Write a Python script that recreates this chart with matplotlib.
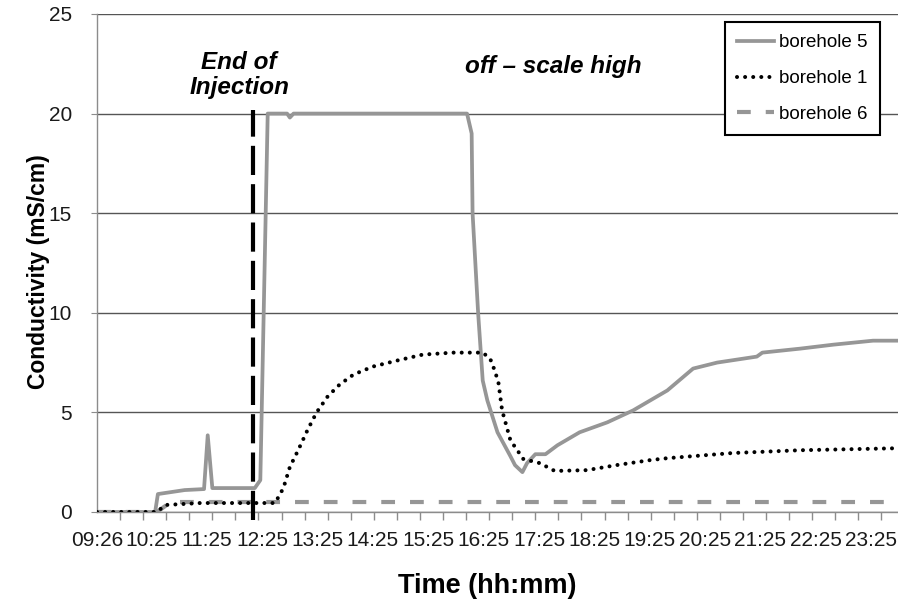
import matplotlib.pyplot as plt
import numpy as np

plt.rcParams['font.family'] = ['Liberation Sans', 'DejaVu Sans']

# conductivity logger readings (time of day, mS/cm)
bh5_time = ["09:26", "10:29", "10:32", "11:01", "11:22", "11:26", "11:31", "12:17",
            "12:23", "12:31", "12:52", "12:55", "12:59", "16:07", "16:12", "16:13",
            "16:19", "16:24", "16:29", "16:40", "16:54", "16:59", "17:07", "17:12",
            "17:21", "17:32", "17:45", "18:09", "18:39", "19:07", "19:44", "20:12",
            "20:38", "21:21", "21:27", "22:08", "22:44", "23:27", "23:54"]
bh5_cond = [0.0, 0.0, 0.9, 1.1, 1.15, 3.85, 1.2, 1.2,
            1.6, 20.0, 20.0, 19.8, 20.0, 20.0, 19.0, 15.0,
            10.0, 6.6, 5.6, 4.0, 2.8, 2.35, 2.0, 2.45,
            2.9, 2.9, 3.35, 4.0, 4.5, 5.1, 6.1, 7.2,
            7.5, 7.8, 8.0, 8.2, 8.4, 8.6, 8.6]

bh1_time = ["09:26", "10:31", "10:40", "11:18", "12:39", "12:48", "12:55", "13:04",
            "13:14", "13:24", "13:36", "13:49", "14:04", "14:25", "14:51", "15:19",
            "15:52", "16:24", "16:32", "16:37", "16:41", "16:45", "16:54", "17:08",
            "17:26", "17:42", "18:17", "18:50", "19:25", "19:44", "20:55", "22:08",
            "23:54"]
bh1_cond = [0.0, 0.0, 0.35, 0.45, 0.45, 1.2, 2.26, 3.1,
            4.1, 5.0, 5.8, 6.4, 6.9, 7.3, 7.6, 7.9,
            8.0, 8.0, 7.7, 7.1, 6.5, 5.1, 3.6, 2.66,
            2.45, 2.06, 2.1, 2.36, 2.6, 2.7, 2.96, 3.1,
            3.2]

bh6_time = ["09:26", "10:31", "10:46", "23:54"]
bh6_cond = [0.0, 0.0, 0.5, 0.5]

tick_labels = ["09:26", "10:25", "11:25", "12:25", "13:25", "14:25", "15:25", "16:25",
               "17:25", "18:25", "19:25", "20:25", "21:25", "22:25", "23:25"]
injection_end = "12:15"


def to_min(hhmm):
    h, m = hhmm.split(":")
    return int(h) * 60 + int(m)


def mins(lst):
    return [to_min(t) for t in lst]


fig = plt.figure(figsize=(8.98, 6), dpi=100)
ax = fig.add_axes([0.108, 0.1467, 0.892, 0.83])

gray = '#969696'
ax.plot(mins(bh5_time), bh5_cond, color=gray, lw=2.7, label='borehole 5',
        solid_joinstyle='round', zorder=4)
ax.plot(mins(bh1_time), bh1_cond, color='black', lw=2.9, linestyle=(0, (0.01, 2.0)),
        dash_capstyle='round', label='borehole 1', zorder=5)
ax.plot(mins(bh6_time), bh6_cond, color=gray, lw=3.0, linestyle=(0, (3.3, 3.6)),
        label='borehole 6', zorder=3)

# end of injection marker, runs a little below the axis
t_inj = to_min(injection_end)
ax.plot([t_inj, t_inj], [-0.4, 20.2], color='black', lw=3.0,
        linestyle=(0, (7, 2.2)), clip_on=False, zorder=6)

ax.text(t_inj - 15, 21.95, "End of\nInjection", ha='center', va='center',
        fontsize=17.5, fontweight='bold', fontstyle='italic', linespacing=1.1)
ax.text(1060, 22.35, "off \u2013 scale high", ha='center', va='center',
        fontsize=17.5, fontweight='bold', fontstyle='italic')

ax.set_xlim(566, 1434)
ax.set_ylim(0, 25)
ax.set_yticks([0, 5, 10, 15, 20, 25])
ax.grid(axis='y', color='#555555', lw=1.0)
ax.set_axisbelow(True)

ax.set_xticks(mins(tick_labels))
ax.set_xticklabels(tick_labels)
ax.set_xticks(np.arange(566, 1434, 25), minor=True)
ax.tick_params(axis='x', which='major', length=0, pad=14, labelsize=15,
               labelcolor='#1a1a1a')
ax.tick_params(axis='x', which='minor', length=6, color='#8c8c8c', width=1)
ax.tick_params(axis='y', length=4, color='#8c8c8c', pad=14, labelsize=15,
               labelcolor='#1a1a1a')

for side in ['top', 'right']:
    ax.spines[side].set_visible(False)
for side in ['left', 'bottom']:
    ax.spines[side].set_color('#8c8c8c')
    ax.spines[side].set_linewidth(1.0)

ax.set_xlabel("Time (hh:mm)", fontsize=19.5, fontweight='bold')
ax.xaxis.set_label_coords(0.487, -0.122)
ax.set_ylabel("Conductivity (mS/cm)", fontsize=16.5, fontweight='bold')
ax.yaxis.set_label_coords(-0.059, 0.482)

leg = ax.legend(loc='upper right', bbox_to_anchor=(0.9775, 0.984), borderaxespad=0,
                fontsize=13.5, handlelength=2.0, handletextpad=0.27, labelspacing=1.0,
                fancybox=False, framealpha=1, edgecolor='black', borderpad=0.65)
leg.get_frame().set_linewidth(1.5)

fig.savefig("out.png", dpi=100)
